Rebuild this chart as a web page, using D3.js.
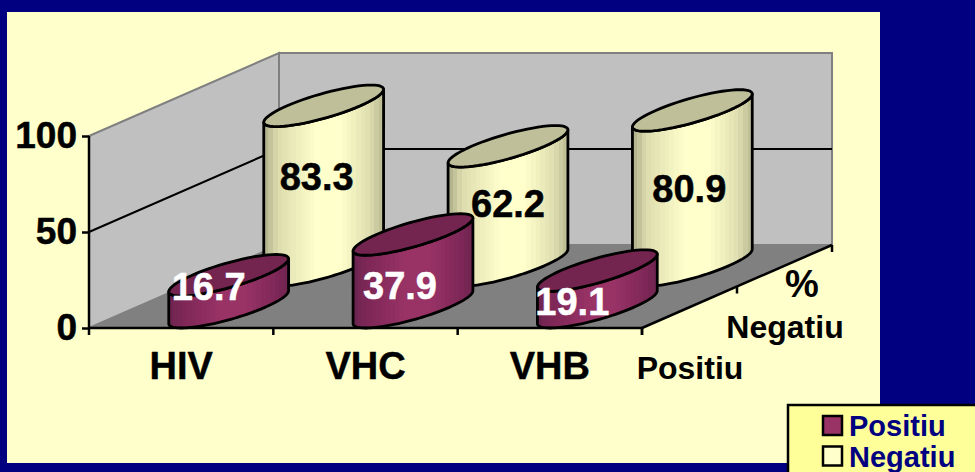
<!DOCTYPE html>
<html>
<head>
<meta charset="utf-8">
<script src="https://cdn.jsdelivr.net/npm/d3@7"></script>
<style>
  html, body { margin: 0; padding: 0; background: #000080; }
  svg { display: block; }
  text { font-family: "Liberation Sans", Arial, sans-serif; font-weight: bold; }
  .domain { display: none; }
</style>
</head>
<body>
<svg id="chart" width="975" height="472"></svg>
<script>
// Test results by virus, in percent
const categories = ["HIV", "VHC", "VHB"];
const seriesNames = ["Positiu", "Negatiu"];
const positiu = [16.7, 37.9, 19.1];
const negatiu = [83.3, 62.2, 80.9];
const valueTicks = [0, 50, 100];

const svg = d3.select("#chart");
const bg = "#000080", panel = "#FFFFCC", wall = "#C0C0C0", floorFill = "#808080";

svg.append("rect").attr("width", 975).attr("height", 472).attr("fill", bg);
svg.append("rect").attr("x", 7).attr("y", 12).attr("width", 873).attr("height", 451).attr("fill", panel);

// Oblique projection: category along x, value along y, series into the depth
const x = d3.scaleBand().domain(categories).range([89, 642]);
const y = d3.scaleLinear().domain([0, 100]).range([328, 136]);
const depth = d3.scaleBand().domain(seriesNames).range([0, 1]);
const dx = 190, dy = 83;
const project = (px, d, v) => [px + d * dx, y(v) - d * dy];
const poly = pts => "M" + pts.map(p => p.join(",")).join("L") + "Z";
const x0 = x.range()[0], x1 = x.range()[1];

// Walls and floor
const g = svg.append("g");
g.append("path").attr("d", poly([project(x0, 0, 0), project(x0, 1, 0), project(x0, 1, 100), project(x0, 0, 100)]))
  .attr("fill", wall).attr("stroke", floorFill).attr("stroke-width", 2);
g.append("path").attr("d", poly([project(x0, 1, 0), project(x1, 1, 0), project(x1, 1, 100), project(x0, 1, 100)]))
  .attr("fill", wall).attr("stroke", floorFill).attr("stroke-width", 2);

// The 50 gridline runs along the side wall and then across the back wall
const gridPts = [project(x0, 0, 50), project(x0, 1, 50), project(x1, 1, 50)];
g.append("path").attr("d", "M" + gridPts.map(p => p.join(",")).join("L"))
  .attr("fill", "none").attr("stroke", "#000").attr("stroke-width", 2);

g.append("path").attr("d", poly([project(x0, 0, 0), project(x1, 0, 0), project(x1, 1, 0), project(x0, 1, 0)]))
  .attr("fill", floorFill).attr("stroke", "none");

// Banded shading across a cylinder wall
const defs = svg.append("defs");
function bandedGradient(id, edge, mid, light) {
  const grad = defs.append("linearGradient").attr("id", id).attr("x1", 0).attr("x2", 1).attr("y1", 0).attr("y2", 0);
  const n = 26;
  const shade = d3.scaleLinear().domain([0, 0.12, 0.42, 0.62, 0.86, 1]).range([mid, mid, light, light, mid, edge]).interpolate(d3.interpolateRgb);
  const left = d3.scaleLinear().domain([0, 0.1]).range([edge, mid]).clamp(true);
  for (let i = 0; i < n; i++) {
    const t = i / n;
    const c = t < 0.1 ? left(t) : shade(t);
    grad.append("stop").attr("offset", t).attr("stop-color", c);
    grad.append("stop").attr("offset", (i + 1) / n).attr("stop-color", c);
  }
}
bandedGradient("sidePositiu", "#6E2450", "#7F2858", "#993366");
bandedGradient("sideNegatiu", "#B4B48E", "#DEDEB0", "#FFFFCC");

// Cylinder footprint: half-width along the category axis, half-depth into the chart
const halfW = 36.5, halfD = 0.25;
function ellipsePoint(cx, cd, v, t) {
  return project(cx + halfW * Math.cos(t), cd + halfD * Math.sin(t), v);
}
// Angles of the left and right silhouette points
const tR = Math.atan2(halfD * dx, halfW);
const tL = tR + Math.PI;

function drawCylinder(layer, cat, name, value, sideId, topFill) {
  const cx = x(cat) + x.bandwidth() / 2;
  const cd = depth(name) + depth.bandwidth() / 2;
  const line = d3.line();
  const steps = 64;
  const arc = (v, a, b) => d3.range(steps + 1).map(i => ellipsePoint(cx, cd, v, a + (b - a) * i / steps));
  // Side: the near half of the base, then the near half of the top
  const base = arc(0, tL, tL + Math.PI);
  const top = arc(value, tL + Math.PI, tL);
  layer.append("path").attr("d", line(base.concat(top)) + "Z")
    .attr("fill", `url(#${sideId})`).attr("stroke", "#000").attr("stroke-width", 2.8).attr("stroke-linejoin", "round");
  layer.append("path").attr("d", line(arc(value, 0, 2 * Math.PI)) + "Z")
    .attr("fill", topFill).attr("stroke", "#000").attr("stroke-width", 2.8);
}

const marks = svg.append("g");
categories.forEach((c, i) => drawCylinder(marks, c, "Negatiu", negatiu[i], "sideNegatiu", "#BFBF99"));
categories.forEach((c, i) => drawCylinder(marks, c, "Positiu", positiu[i], "sidePositiu", "#73244F"));

// Value labels sit on top of every cylinder, offset from the centre of its top face
const labelOffsets = {
  Positiu: [[-20, 12], [-13, 52], [-25, 31]],
  Negatiu: [[-7, 71], [0, 58], [-3, 79]]
};
function drawLabels(name, values, color) {
  categories.forEach((c, i) => {
    const cx = x(c) + x.bandwidth() / 2;
    const cd = depth(name) + depth.bandwidth() / 2;
    const [px, py] = project(cx, cd, values[i]);
    const [ox, oy] = labelOffsets[name][i];
    svg.append("text").attr("x", px + ox).attr("y", py + oy)
      .attr("text-anchor", "middle").attr("dominant-baseline", "central")
      .attr("font-size", 38).attr("fill", color)
      .attr("stroke", color).attr("stroke-width", 0.5).text(values[i].toFixed(1));
  });
}
drawLabels("Negatiu", negatiu, "#000");
drawLabels("Positiu", positiu, "#fff");

// Value axis
const yAxis = d3.axisLeft(y).tickValues(valueTicks).tickSize(7).tickPadding(5);
const yG = svg.append("g").attr("transform", `translate(${x0},0)`).call(yAxis);
yG.selectAll("line").attr("stroke", "#000").attr("stroke-width", 2.5);
yG.selectAll("text").attr("font-size", 37).attr("fill", "#000").attr("font-family", '"Liberation Sans"')
  .attr("stroke", "#000").attr("stroke-width", 0.5);
svg.append("line").attr("x1", x0).attr("x2", x0).attr("y1", y(100)).attr("y2", y(0)).attr("stroke", "#000").attr("stroke-width", 2.5);

// Category axis: baseline, ticks on the band edges, labels at band centres
const xAxis = d3.axisBottom(x).tickSize(0).tickPadding(24);
const xG = svg.append("g").attr("transform", `translate(0,${y(0)})`).call(xAxis);
xG.selectAll("text").attr("font-size", 38).attr("fill", "#000").attr("font-family", '"Liberation Sans"')
  .attr("stroke", "#000").attr("stroke-width", 0.4);
svg.append("line").attr("x1", x0).attr("x2", x1).attr("y1", y(0)).attr("y2", y(0)).attr("stroke", "#000").attr("stroke-width", 2.5);
svg.selectAll(".xedge").data(d3.range(categories.length + 1)).join("line")
  .attr("x1", i => x0 + i * x.bandwidth()).attr("x2", i => x0 + i * x.bandwidth())
  .attr("y1", y(0)).attr("y2", y(0) + 7).attr("stroke", "#000").attr("stroke-width", 2.5);

// Series axis along the right edge of the floor
const [sx0, sy0] = project(x1, 0, 0), [sx1, sy1] = project(x1, 1, 0);
svg.append("line").attr("x1", sx0).attr("y1", sy0).attr("x2", sx1).attr("y2", sy1).attr("stroke", "#000").attr("stroke-width", 2.5);
[0, 0.5, 1].forEach(d => {
  const [a, b] = project(x1, d, 0);
  svg.append("line").attr("x1", a).attr("x2", a).attr("y1", b).attr("y2", b + 7).attr("stroke", "#000").attr("stroke-width", 2.5);
});
seriesNames.forEach(name => {
  const [a, b] = project(x1, depth(name) + depth.bandwidth() / 2, 0);
  svg.append("text").attr("x", a + 0.5).attr("y", b + 72).attr("text-anchor", "middle")
    .attr("font-size", 32).attr("fill", "#000").text(name);
});
svg.append("text").attr("x", 802).attr("y", 297).attr("text-anchor", "middle")
  .attr("font-size", 38).attr("fill", "#000").text("%");

// Legend box
const legend = svg.append("g");
legend.append("rect").attr("x", 788).attr("y", 405).attr("width", 200).attr("height", 80)
  .attr("fill", "#FFFF99").attr("stroke", "#000").attr("stroke-width", 2.5);
const swatchFill = { Positiu: "#993366", Negatiu: "#FFFFCC" };
seriesNames.forEach((name, i) => {
  legend.append("rect").attr("x", 823).attr("y", 416 + i * 30.5).attr("width", 19).attr("height", 19)
    .attr("fill", swatchFill[name]).attr("stroke", "#000").attr("stroke-width", 2.5);
  legend.append("text").attr("x", 849).attr("y", 436 + i * 30.5)
    .attr("font-size", 29).attr("fill", "#000080").text(name);
});
</script>
</body>
</html>
